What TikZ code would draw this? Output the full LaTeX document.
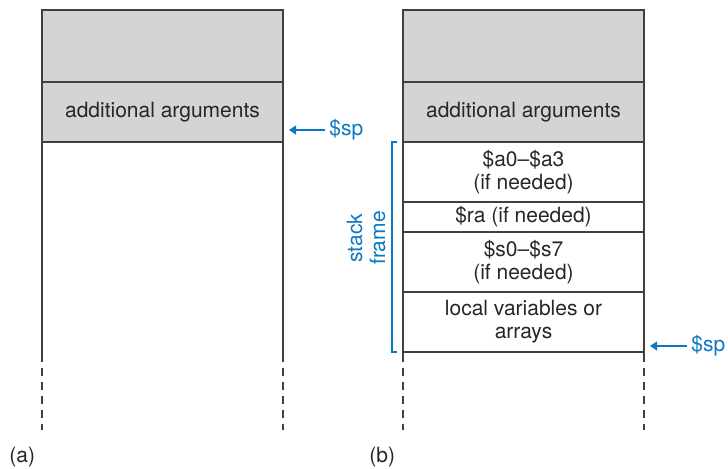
\documentclass[tikz,border=0pt]{standalone}
\usepackage{fontspec}
\setmainfont{TeX Gyre Heros}
\usetikzlibrary{arrows.meta,positioning}
\definecolor{spblue}{HTML}{0A78C2}
\definecolor{cellgray}{HTML}{D3D4D6}
\colorlet{cellline}{black!75}

\begin{document}
\begin{tikzpicture}[x=0.5pt,y=-0.5pt,
  font=\fontsize{10.5}{11.5}\selectfont,
  cell/.style={draw=cellline, line width=0.6pt, minimum width=120.5pt, inner sep=0pt, outer sep=0pt, align=center, text=black!85},
  tallcell/.style={cell, minimum height=36pt},
  midcell/.style={cell, minimum height=30pt},
  thincell/.style={cell, minimum height=15pt},
  shaded/.style={fill=cellgray},
  wall/.style={draw=cellline, line width=0.6pt},
  tail/.style={wall, dash pattern=on 4pt off 3pt},
  sparrow/.style={spblue, line width=0.6pt, -{Triangle[length=3.5pt,width=4.5pt]}},
  splabel/.style={text=spblue, inner sep=0pt, anchor=west},
  bracket/.style={spblue, line width=0.6pt},
  caption/.style={text=black!85, inner sep=0pt, anchor=west}]
\useasboundingbox (0,0) rectangle (728,468);

% (a) before the call
\node[tallcell,shaded] (atop) at (162.5,46) {};
\node[midcell,shaded,below=0pt of atop] (aargs) {additional arguments};
\draw[wall] (aargs.south west) -- ++(0,220) coordinate (awl);
\draw[wall] (aargs.south east) -- ++(0,220) coordinate (awr);
\draw[tail] ([yshift=-3pt]awl) -- ++(0,62);
\draw[tail] ([yshift=-3pt]awr) -- ++(0,62);
\node[splabel] (asp) at (329,130) {\$sp};
\coordinate (asptip) at (289,130);
\draw[sparrow] ([xshift=-2pt]asp.west) -- (asptip);
\node[caption] (alabel) at (9,457) {(a)};

% (b) during the call
\node[tallcell,shaded] (btop) at (523.5,46) {};
\node[midcell,shaded,below=0pt of btop] (bargs) {additional arguments};
\node[midcell,below=0pt of bargs] (ba0) {\$a0--\$a3\\(if needed)};
\node[thincell,below=0pt of ba0] (bra) {\$ra (if needed)};
\node[midcell,below=0pt of bra] (bs0) {\$s0--\$s7\\(if needed)};
\node[midcell,below=0pt of bs0] (blocal) {local variables or\\arrays};
\draw[wall] (blocal.south west) -- ++(0,10) coordinate (bwl);
\draw[wall] (blocal.south east) -- ++(0,10) coordinate (bwr);
\draw[tail] ([yshift=-3pt]bwl) -- ++(0,62);
\draw[tail] ([yshift=-3pt]bwr) -- ++(0,62);
\node[splabel] (bsp) at (691,346) {\$sp};
\coordinate (bsptip) at (650,346);
\draw[sparrow] ([xshift=-2pt]bsp.west) -- (bsptip);
\draw[bracket] ([xshift=-3pt]ba0.north west) -- ++(-5,0) |- ([xshift=-3pt]blocal.south west);
\node[rotate=90, text=spblue, align=center, inner sep=0pt] (frame) at (366,238) {stack\\frame};
\node[caption] (blabel) at (369,457) {(b)};
\end{tikzpicture}
\end{document}
